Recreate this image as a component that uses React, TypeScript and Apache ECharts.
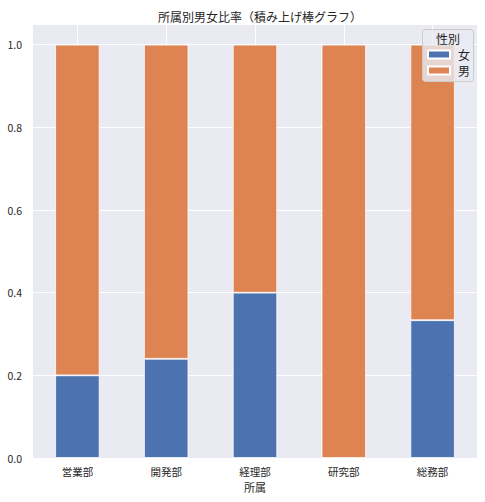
import React, { useEffect, useRef } from "react";
import * as echarts from "echarts";

const categories = ["営業部", "開発部", "経理部", "研究部", "総務部"];
const femaleRatio = [0.2, 0.24, 0.4, 0.0, 0.3333];
const maleRatio = [0.8, 0.76, 0.6, 1.0, 0.6667];
const yTickValues = [0, 0.2, 0.4, 0.6, 0.8, 1.0];
const seriesNames = ["女", "男"];
const legendTitle = "性別";
const chartTitle = "所属別男女比率（積み上げ棒グラフ）";
const xAxisName = "所属";

const FONT = '"Noto Sans CJK JP", "Noto Sans", sans-serif';
const TEXT = "#262626";

export default function App() {
  const ref = useRef<HTMLDivElement>(null);
  useEffect(() => {
    if (!ref.current) return;
    const chart = echarts.init(ref.current, undefined, { renderer: "svg" });
    chart.setOption({
      animation: false,
      textStyle: { fontFamily: FONT, color: TEXT },
      title: {
        text: chartTitle,
        left: 255,
        textAlign: "center",
        top: 5,
        textStyle: { fontFamily: FONT, fontSize: 12, fontWeight: "normal", color: TEXT },
      },
      grid: {
        left: 33,
        right: 8,
        top: 24,
        bottom: 44,
        show: true,
        backgroundColor: "#EAEAF2",
        borderWidth: 0,
      },
      xAxis: {
        type: "category",
        data: categories,
        name: xAxisName,
        nameLocation: "middle",
        nameGap: 23,
        nameTextStyle: { fontFamily: FONT, fontSize: 11, color: TEXT },
        axisLine: { show: false },
        axisTick: { show: false, alignWithLabel: true },
        axisLabel: { fontFamily: FONT, fontSize: 10.5, color: TEXT, margin: 8 },
        splitLine: {
          show: true,
          alignWithLabel: true,
          lineStyle: { color: "#ffffff", width: 1 },
        },
      },
      yAxis: {
        type: "value",
        min: 0,
        max: 1.05,
        interval: 0.2,
        axisLine: { show: false },
        axisTick: { show: false },
        axisLabel: {
          fontFamily: FONT,
          fontSize: 10.5,
          color: TEXT,
          margin: 11,
          showMaxLabel: false,
          formatter: (v: number) =>
            yTickValues.some((t) => Math.abs(t - v) < 1e-6) ? v.toFixed(1) : "",
        },
        splitLine: { show: true, lineStyle: { color: "#ffffff", width: 1 } },
      },
      legend: {
        data: seriesNames,
        orient: "vertical",
        left: 422,
        top: 43,
        icon: "rect",
        itemWidth: 22,
        itemHeight: 8,
        itemGap: 3,
        z: 20,
        textStyle: {
          fontFamily: FONT,
          fontSize: 12,
          color: TEXT,
          lineHeight: 13,
          padding: [0, 0, 0, 3],
        },
      },
      graphic: [
        {
          type: "rect",
          z: 10,
          shape: { x: 422.5, y: 29.5, width: 51, height: 52, r: 3 },
          style: { fill: "rgba(234,234,242,0.8)", stroke: "#cccccc", lineWidth: 1 },
        },
        {
          type: "text",
          z: 11,
          x: 448,
          y: 38.5,
          style: {
            text: legendTitle,
            fontFamily: FONT,
            fontSize: 12,
            fill: TEXT,
            textAlign: "center",
            textVerticalAlign: "middle",
          },
        },
      ],
      series: [
        {
          name: seriesNames[0],
          type: "bar",
          stack: "total",
          barWidth: "50%",
          data: femaleRatio,
          itemStyle: { color: "#4C72B0", borderColor: "#ffffff", borderWidth: 0.8 },
        },
        {
          name: seriesNames[1],
          type: "bar",
          stack: "total",
          barWidth: "50%",
          data: maleRatio,
          itemStyle: { color: "#DD8452", borderColor: "#ffffff", borderWidth: 0.8 },
        },
      ],
    });
    return () => chart.dispose();
  }, []);
  return (
    <div
      ref={ref}
      style={{ position: "absolute", left: 0, top: 0, width: 485, height: 502 }}
    />
  );
}
